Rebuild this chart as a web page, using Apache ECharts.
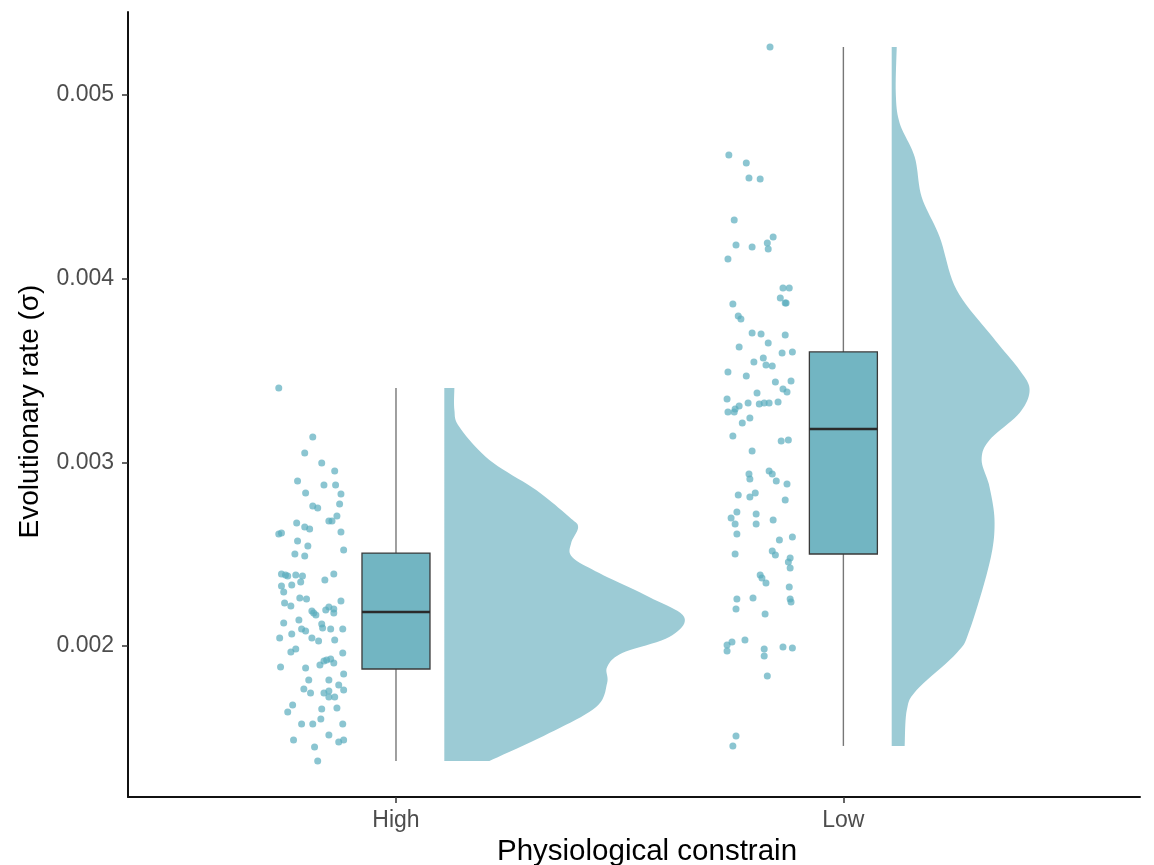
<!DOCTYPE html>
<html>
<head>
<meta charset="utf-8">
<script src="https://cdn.jsdelivr.net/npm/echarts@6/dist/echarts.min.js"></script>
<style>
  html, body { margin: 0; padding: 0; background: #fff; }
  #chart { width: 1154px; height: 865px; }
</style>
</head>
<body>
<div id="chart"></div>
<script>
// Groups on the x axis (positions 1 and 2)
const groups = ['High', 'Low'];
const yTicks = [0.002, 0.003, 0.004, 0.005];

// Box summaries: [min, Q1, median, Q3, max]
const highBox = [0.001374, 0.001875, 0.002185, 0.002506, 0.003405];
const lowBox  = [0.001456, 0.002501, 0.003182, 0.003601, 0.005261];

// Raw rates for each group and their horizontal jitter (offset from group centre)
const highRates = [
  0.003405, 0.003138, 0.003051, 0.002996, 0.002953, 0.002898, 0.002877, 0.002877, 0.002833, 0.002828,
  0.002773, 0.002762, 0.002751, 0.002708, 0.002681, 0.002681, 0.002670, 0.002648, 0.002637, 0.002610,
  0.002615, 0.002621, 0.002572, 0.002544, 0.002523, 0.002501, 0.002490, 0.002392, 0.002387, 0.002381,
  0.002387, 0.002381, 0.002392, 0.002359, 0.002348, 0.002332, 0.002327, 0.002294, 0.002261, 0.002256,
  0.002245, 0.002234, 0.002218, 0.002212, 0.002201, 0.002196, 0.002191, 0.002180, 0.002169, 0.002180,
  0.002142, 0.002125, 0.002120, 0.002098, 0.002093, 0.002082, 0.002093, 0.002093, 0.002065, 0.002044,
  0.002044, 0.002027, 0.002033, 0.001984, 0.001967, 0.001962, 0.001924, 0.001929, 0.001907, 0.001918,
  0.001897, 0.001886, 0.001880, 0.001848, 0.001815, 0.001815, 0.001788, 0.001766, 0.001744, 0.001744,
  0.001755, 0.001722, 0.001722, 0.001760, 0.001679, 0.001641, 0.001657, 0.001662, 0.001603, 0.001575,
  0.001575, 0.001575, 0.001515, 0.001488, 0.001477, 0.001488, 0.001450, 0.001374
];
const highJitter = [
  -0.262, -0.186, -0.204, -0.166, -0.137, -0.220, -0.161, -0.135, -0.202, -0.123,
  -0.126, -0.186, -0.175, -0.132, -0.150, -0.143, -0.222, -0.204, -0.193, -0.262,
  -0.256, -0.123, -0.220, -0.197, -0.117, -0.226, -0.204, -0.256, -0.247, -0.242,
  -0.224, -0.209, -0.139, -0.159, -0.213, -0.233, -0.256, -0.251, -0.215, -0.200,
  -0.123, -0.249, -0.235, -0.150, -0.139, -0.157, -0.188, -0.184, -0.179, -0.139,
  -0.217, -0.251, -0.166, -0.164, -0.211, -0.202, -0.146, -0.119, -0.233, -0.260,
  -0.188, -0.173, -0.137, -0.224, -0.235, -0.119, -0.155, -0.146, -0.139, -0.161,
  -0.170, -0.258, -0.202, -0.117, -0.195, -0.150, -0.128, -0.206, -0.191, -0.161,
  -0.150, -0.150, -0.137, -0.117, -0.231, -0.242, -0.166, -0.132, -0.168, -0.211,
  -0.186, -0.119, -0.150, -0.229, -0.128, -0.117, -0.182, -0.175
];
const lowRates = [
  0.005261, 0.004673, 0.004630, 0.004548, 0.004543, 0.004319, 0.004183, 0.004172, 0.004194, 0.004162,
  0.004227, 0.004107, 0.003949, 0.003949, 0.003895, 0.003868, 0.003868, 0.003862, 0.003797, 0.003780,
  0.003704, 0.003699, 0.003693, 0.003650, 0.003628, 0.003595, 0.003601, 0.003568, 0.003546, 0.003530,
  0.003524, 0.003492, 0.003470, 0.003437, 0.003443, 0.003399, 0.003383, 0.003377, 0.003345, 0.003323,
  0.003318, 0.003323, 0.003323, 0.003328, 0.003274, 0.003274, 0.003290, 0.003307, 0.003241, 0.003214,
  0.003143, 0.003116, 0.003122, 0.003062, 0.002936, 0.002909, 0.002953, 0.002936, 0.002898, 0.002882,
  0.002822, 0.002811, 0.002833, 0.002795, 0.002730, 0.002697, 0.002719, 0.002664, 0.002664, 0.002686,
  0.002610, 0.002577, 0.002593, 0.002517, 0.002495, 0.002501, 0.002479, 0.002457, 0.002425, 0.002387,
  0.002370, 0.002343, 0.002321, 0.002256, 0.002261, 0.002256, 0.002240, 0.002201, 0.002174, 0.002033,
  0.002022, 0.002005, 0.001973, 0.001984, 0.001946, 0.001995, 0.001989, 0.001837, 0.001510, 0.001456
];
const lowJitter = [
  -0.164, -0.256, -0.217, -0.211, -0.186, -0.244, -0.240, -0.204, -0.170, -0.168,
  -0.157, -0.258, -0.135, -0.121, -0.141, -0.130, -0.128, -0.247, -0.235, -0.229,
  -0.204, -0.184, -0.130, -0.168, -0.233, -0.137, -0.114, -0.179, -0.200, -0.173,
  -0.159, -0.258, -0.217, -0.152, -0.117, -0.135, -0.126, -0.193, -0.260, -0.213,
  -0.188, -0.177, -0.166, -0.146, -0.258, -0.244, -0.242, -0.233, -0.209, -0.226,
  -0.247, -0.139, -0.123, -0.204, -0.211, -0.209, -0.166, -0.159, -0.150, -0.126,
  -0.235, -0.209, -0.197, -0.130, -0.238, -0.251, -0.195, -0.242, -0.195, -0.157,
  -0.238, -0.143, -0.114, -0.159, -0.152, -0.242, -0.119, -0.123, -0.119, -0.186,
  -0.182, -0.173, -0.121, -0.238, -0.202, -0.119, -0.117, -0.240, -0.175, -0.220,
  -0.249, -0.260, -0.260, -0.177, -0.177, -0.135, -0.114, -0.170, -0.240, -0.247
];

// Kernel density outlines (relative density at each rate), top to bottom
const highDensityAt = [0.003405, 0.003285, 0.003192, 0.003013, 0.002849, 0.002702, 0.002648, 0.002561,
  0.002485, 0.002397, 0.002267, 0.002158, 0.002049, 0.001962, 0.001886, 0.001799, 0.001668, 0.001526, 0.001374];
const highDensity = [0.042, 0.042, 0.063, 0.188, 0.383, 0.521, 0.558, 0.529,
  0.533, 0.646, 0.854, 1.000, 0.938, 0.742, 0.679, 0.679, 0.633, 0.438, 0.188];
const lowDensityAt = [0.005261, 0.005011, 0.004848, 0.004662, 0.004445, 0.004227, 0.003938, 0.003682,
  0.003503, 0.003394, 0.003269, 0.003122, 0.003013, 0.002866, 0.002670, 0.002452, 0.002087, 0.001962,
  0.001760, 0.001652, 0.001456];
const lowDensity = [0.021, 0.017, 0.033, 0.096, 0.125, 0.200, 0.271, 0.421,
  0.533, 0.575, 0.533, 0.408, 0.375, 0.408, 0.429, 0.408, 0.325, 0.271,
  0.104, 0.063, 0.054];

// Layout of the raincloud pieces, in x-axis units
const BOX_HALF = 0.076;
const VIOLIN_GAP = 0.108;
const VIOLIN_SCALE = 0.536;

const VIOLIN_FILL = '#9ccbd5';
const BOX_FILL = '#72b5c2';
const POINT_FILL = '#5aacbd';
const FONT = '"Liberation Sans", Arial, sans-serif';

function catmullRom(pts, steps) {
  const out = [];
  for (let i = 0; i < pts.length - 1; i++) {
    const p0 = pts[Math.max(i - 1, 0)], p1 = pts[i], p2 = pts[i + 1], p3 = pts[Math.min(i + 2, pts.length - 1)];
    for (let s = 0; s < steps; s++) {
      const t = s / steps, t2 = t * t, t3 = t2 * t;
      const f = (a, b, c, d) => 0.5 * ((2 * b) + (-a + c) * t + (2 * a - 5 * b + 4 * c - d) * t2 + (-a + 3 * b - 3 * c + d) * t3);
      out.push([f(p0[0], p1[0], p2[0], p3[0]), f(p0[1], p1[1], p2[1], p3[1])]);
    }
  }
  out.push(pts[pts.length - 1]);
  return out;
}

function violinSeries(gx, at, dens) {
  return {
    type: 'custom',
    z: 1,
    silent: true,
    data: [[gx, at[0]]],
    renderItem: function (params, api) {
      const base = gx + VIOLIN_GAP;
      const pts = at.map((v, i) => api.coord([base + dens[i] * VIOLIN_SCALE, v]));
      const curve = catmullRom(pts, 10);
      const top = api.coord([base, at[0]]);
      const bottom = api.coord([base, at[at.length - 1]]);
      return {
        type: 'polygon',
        shape: { points: [top].concat(curve, [bottom]) },
        style: { fill: VIOLIN_FILL, stroke: null }
      };
    }
  };
}

function pointData(gx, rates, jitter) {
  return rates.map((r, i) => [gx + jitter[i], r]);
}

const boxData = [[1].concat(highBox), [2].concat(lowBox)];

const chart = echarts.init(document.getElementById('chart'), null, { renderer: 'canvas' });

chart.setOption({
  animation: false,
  backgroundColor: '#ffffff',
  grid: { left: 128, right: 14, top: 12, bottom: 68, containLabel: false, outerBoundsMode: 'none' },
  xAxis: {
    type: 'value',
    min: 0.401,
    max: 2.663,
    splitLine: { show: false },
    axisLine: { show: true, onZero: false, lineStyle: { color: '#111', width: 2 } },
    axisTick: { show: true, customValues: [1, 2], length: 6, lineStyle: { color: '#333', width: 1.5 } },
    axisLabel: {
      customValues: [1, 2],
      formatter: v => groups[Math.round(v) - 1],
      color: '#4d4d4d', fontSize: 23, fontFamily: FONT, margin: 12
    },
    name: 'Physiological constrain',
    nameLocation: 'middle',
    nameGap: 38,
    nameTextStyle: { color: '#000', fontSize: 29.5, fontFamily: FONT, padding: [0, 0, 0, 26] }
  },
  yAxis: {
    type: 'value',
    min: 0.001178,
    max: 0.005452,
    splitLine: { show: false },
    axisLine: { show: true, onZero: false, lineStyle: { color: '#111', width: 2 } },
    axisTick: { show: true, customValues: yTicks, length: 6, lineStyle: { color: '#333', width: 1.5 } },
    axisLabel: {
      customValues: yTicks,
      formatter: v => v.toFixed(3),
      color: '#4d4d4d', fontSize: 23, fontFamily: FONT, margin: 14
    },
    name: 'Evolutionary rate (σ)',
    nameLocation: 'middle',
    nameGap: 84,
    nameTextStyle: { color: '#000', fontSize: 28, fontFamily: FONT, padding: [0, 14, 0, 0] }
  },
  series: [
    violinSeries(1, highDensityAt, highDensity),
    violinSeries(2, lowDensityAt, lowDensity),
    {
      type: 'custom',
      z: 2,
      silent: true,
      data: boxData,
      encode: { x: 0, y: [1, 2, 3, 4, 5] },
      renderItem: function (params, api) {
        const x = api.value(0);
        const pMin = api.coord([x, api.value(1)]);
        const pQ1 = api.coord([x, api.value(2)]);
        const pMed = api.coord([x, api.value(3)]);
        const pQ3 = api.coord([x, api.value(4)]);
        const pMax = api.coord([x, api.value(5)]);
        const left = api.coord([x - BOX_HALF, api.value(3)])[0];
        const right = api.coord([x + BOX_HALF, api.value(3)])[0];
        const whisker = { stroke: '#777', lineWidth: 1.4 };
        return {
          type: 'group',
          children: [
            { type: 'line', shape: { x1: pMin[0], y1: pMin[1], x2: pQ1[0], y2: pQ1[1] }, style: whisker },
            { type: 'line', shape: { x1: pQ3[0], y1: pQ3[1], x2: pMax[0], y2: pMax[1] }, style: whisker },
            { type: 'rect', shape: { x: left, y: pQ3[1], width: right - left, height: pQ1[1] - pQ3[1] },
              style: { fill: BOX_FILL, stroke: '#3a3a3a', lineWidth: 1.3 } },
            { type: 'line', shape: { x1: left, y1: pMed[1], x2: right, y2: pMed[1] },
              style: { stroke: '#2a2a2a', lineWidth: 2.6 } }
          ]
        };
      }
    },
    {
      type: 'scatter',
      z: 3,
      silent: true,
      symbol: 'circle',
      symbolSize: 7,
      itemStyle: { color: POINT_FILL, opacity: 0.7 },
      data: pointData(1, highRates, highJitter).concat(pointData(2, lowRates, lowJitter))
    }
  ]
});
</script>
</body>
</html>
